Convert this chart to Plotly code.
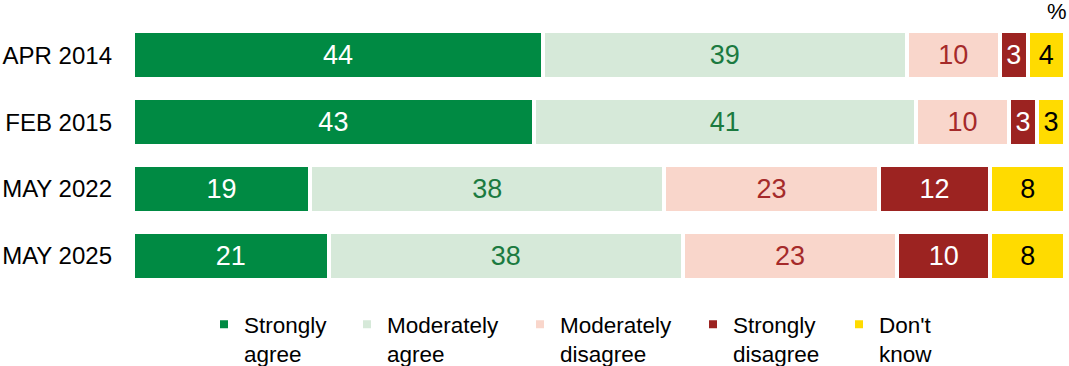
import plotly.graph_objects as go

categories = ["APR 2014", "FEB 2015", "MAY 2022", "MAY 2025"]
series_names = ["Strongly<br>agree", "Moderately<br>agree", "Moderately<br>disagree", "Strongly<br>disagree", "Don't<br>know"]
strongly_agree = [44, 43, 19, 21]
moderately_agree = [39, 41, 38, 38]
moderately_disagree = [10, 10, 23, 23]
strongly_disagree = [3, 3, 12, 10]
dont_know = [4, 3, 8, 8]

values = [strongly_agree, moderately_agree, moderately_disagree, strongly_disagree, dont_know]
fill_colors = ["#008A43", "#D6E9D9", "#F9D6CB", "#9C2321", "#FFDB00"]
text_colors = ["#FFFFFF", "#1B7A40", "#A52A2A", "#FFFFFF", "#000000"]
legend_text_x = [244, 387, 560, 733, 879]  # pixel positions of legend text starts

FONT = "Liberation Sans, Arial, sans-serif"
W, H = 1069, 366
ML, MR, MT, MB = 133, 4, 22, 77.3
PW, PH = W - ML - MR, H - MT - MB

fig = go.Figure()
for i, (name, vals) in enumerate(zip(series_names, values)):
    lg = "legend" if i == 0 else f"legend{i+1}"
    fig.add_trace(go.Bar(
        y=categories, x=vals, name=name, orientation="h",
        marker=dict(color=fill_colors[i], line=dict(color="#FFFFFF", width=4)),
        text=[str(v) for v in vals], textposition="inside", insidetextanchor="middle",
        textangle=0,
        textfont=dict(family=FONT, size=27, color=text_colors[i]),
        hoverinfo="skip", legend=lg, showlegend=True,
    ))

layout_legends = {}
for i, px in enumerate(legend_text_x):
    key = "legend" if i == 0 else f"legend{i+1}"
    layout_legends[key] = dict(
        x=(px - 40) / W, y=1 - 303 / H, xref="container", yref="container",
        xanchor="left", yanchor="top", orientation="h", valign="top",
        bgcolor="rgba(0,0,0,0)", borderwidth=0,
        font=dict(family=FONT, size=22.5, color="#000000"),
        itemwidth=30, tracegroupgap=0,
    )

fig.update_layout(
    width=W, height=H,
    barmode="stack", bargap=0.28,
    plot_bgcolor="#FFFFFF", paper_bgcolor="#FFFFFF",
    margin=dict(l=ML, r=MR, t=MT, b=MB, pad=0, autoexpand=False),
    xaxis=dict(range=[0, 100], visible=False, fixedrange=True, automargin=False),
    yaxis=dict(autorange="reversed", showgrid=False, zeroline=False, showline=False,
               ticks="", ticklabelstandoff=20, automargin=False,
               tickfont=dict(family=FONT, size=24, color="#000000")),
    font=dict(family=FONT),
    annotations=[dict(text="%", xref="paper", yref="paper",
                      x=(1057 - ML) / PW, y=(H - MB - 11.5) / PH,
                      xanchor="center", yanchor="middle", showarrow=False,
                      font=dict(family=FONT, size=22, color="#000000"))],
    **layout_legends,
)

fig.write_html("out.html", config={"displayModeBar": False},
               post_script="document.body.style.margin='0';document.body.style.padding='0';")
